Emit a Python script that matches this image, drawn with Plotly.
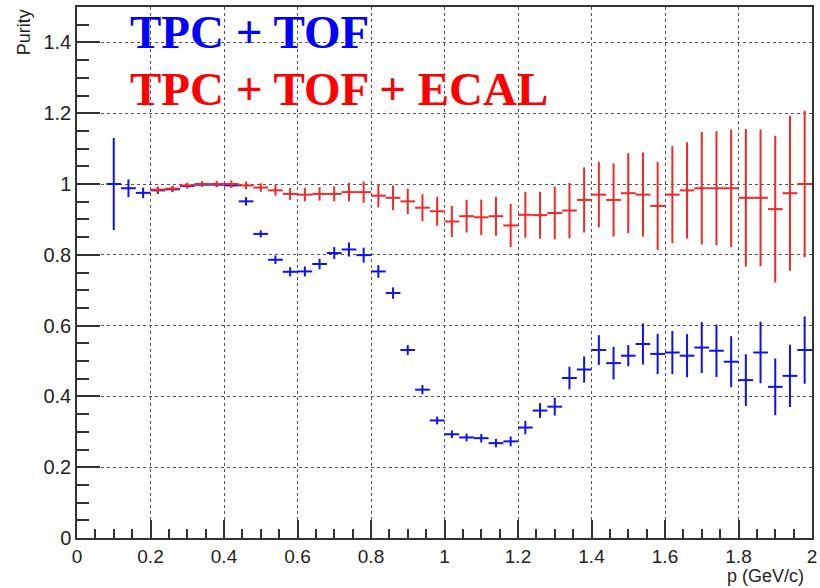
import plotly.graph_objects as go

# --- data ---
p_blue = [0.10, 0.14, 0.18, 0.22, 0.26, 0.30, 0.34, 0.38, 0.42, 0.46,
          0.50, 0.54, 0.58, 0.62, 0.66, 0.70, 0.74, 0.78, 0.82, 0.86,
          0.90, 0.94, 0.98, 1.02, 1.06, 1.10, 1.14, 1.18, 1.22, 1.26,
          1.30, 1.34, 1.38, 1.42, 1.46, 1.50, 1.54, 1.58, 1.62, 1.66,
          1.70, 1.74, 1.78, 1.82, 1.86, 1.90, 1.94, 1.98]
purity_blue = [1.000, 0.988, 0.975, 0.982, 0.985, 0.994, 0.998, 0.998, 0.996, 0.951,
               0.859, 0.786, 0.752, 0.753, 0.774, 0.805, 0.815, 0.799, 0.753, 0.692,
               0.531, 0.419, 0.332, 0.293, 0.284, 0.282, 0.268, 0.273, 0.312, 0.360,
               0.371, 0.452, 0.476, 0.531, 0.494, 0.515, 0.548, 0.520, 0.524, 0.515,
               0.538, 0.529, 0.498, 0.446, 0.524, 0.427, 0.458, 0.531]
err_blue = [0.130, 0.025, 0.015, 0.010, 0.008, 0.006, 0.005, 0.005, 0.006, 0.012,
            0.010, 0.012, 0.013, 0.014, 0.015, 0.017, 0.020, 0.021, 0.018, 0.016,
            0.014, 0.013, 0.011, 0.011, 0.011, 0.012, 0.012, 0.014, 0.019, 0.021,
            0.025, 0.032, 0.037, 0.042, 0.046, 0.030, 0.058, 0.057, 0.061, 0.061,
            0.072, 0.074, 0.072, 0.073, 0.087, 0.080, 0.088, 0.095]

p_red = [0.22, 0.26, 0.30, 0.34, 0.38, 0.42, 0.46, 0.50, 0.54, 0.58,
         0.62, 0.66, 0.70, 0.74, 0.78, 0.82, 0.86, 0.90, 0.94, 0.98,
         1.02, 1.06, 1.10, 1.14, 1.18, 1.22, 1.26, 1.30, 1.34, 1.38,
         1.42, 1.46, 1.50, 1.54, 1.58, 1.62, 1.66, 1.70, 1.74, 1.78,
         1.82, 1.86, 1.90, 1.94, 1.98]
purity_red = [0.984, 0.987, 0.996, 1.000, 1.000, 1.000, 0.996, 0.990, 0.982, 0.972,
              0.970, 0.972, 0.972, 0.977, 0.977, 0.967, 0.961, 0.951, 0.933, 0.923,
              0.894, 0.909, 0.906, 0.909, 0.883, 0.913, 0.912, 0.918, 0.925, 0.955,
              0.970, 0.955, 0.974, 0.970, 0.938, 0.970, 0.982, 0.988, 0.988, 0.988,
              0.961, 0.961, 0.929, 0.974, 1.000]
err_red = [0.008, 0.008, 0.008, 0.008, 0.009, 0.010, 0.011, 0.012, 0.015, 0.017,
           0.019, 0.019, 0.021, 0.026, 0.030, 0.033, 0.035, 0.036, 0.038, 0.041,
           0.044, 0.046, 0.050, 0.055, 0.061, 0.065, 0.066, 0.074, 0.078, 0.092,
           0.092, 0.103, 0.113, 0.119, 0.124, 0.137, 0.136, 0.159, 0.161, 0.166,
           0.194, 0.193, 0.207, 0.219, 0.207]

bin_halfwidth = 0.02
x_ticks = [0, 0.2, 0.4, 0.6, 0.8, 1, 1.2, 1.4, 1.6, 1.8, 2]
y_ticks = [0, 0.2, 0.4, 0.6, 0.8, 1, 1.2, 1.4]

BLUE = "#1010ee"
RED = "#f02828"

fig = go.Figure()
for xs, ys, es, col in [(p_blue, purity_blue, err_blue, BLUE),
                        (p_red, purity_red, err_red, RED)]:
    fig.add_trace(go.Scatter(
        x=xs, y=ys, mode="markers",
        marker=dict(size=1, color=col),
        error_y=dict(type="data", array=es, thickness=2, width=0, color=col),
        error_x=dict(type="constant", value=bin_halfwidth, thickness=2, width=0, color=col),
        showlegend=False, hoverinfo="skip"))

SANS = "Liberation Sans, Arial, sans-serif"
ytick_font = dict(family=SANS, size=20, color="#222")
xtick_font = dict(family=SANS, size=19, color="#222")
title_font = dict(family=SANS, size=18, color="#222")
common = dict(showline=True, linecolor="#333", linewidth=1.5, mirror=True,
              showgrid=True, gridcolor="#555", griddash="dot", gridwidth=1,
              zeroline=False, ticks="inside", tickcolor="#333", tickwidth=1.5,
              ticklabeloverflow="allow")

fig.update_xaxes(range=[0, 2], tickvals=x_ticks, ticktext=[f"{v:g}" for v in x_ticks],
                 ticklen=18, tickfont=xtick_font,
                 minor=dict(dtick=0.05, ticks="inside", ticklen=9, tickcolor="#333",
                            tickwidth=1.5, showgrid=False),
                 **common)
fig.update_yaxes(range=[0, 1.5], tickvals=y_ticks, ticktext=[f"{v:g}" for v in y_ticks],
                 ticklen=23, tickfont=ytick_font,
                 minor=dict(dtick=0.05, ticks="inside", ticklen=12, tickcolor="#333",
                            tickwidth=1.5, showgrid=False),
                 **common)

serif = "Liberation Serif, Times New Roman, serif"
fig.add_annotation(x=0.14, y=1.43, xref="x", yref="y", text="<b>TPC + TOF</b>",
                   showarrow=False, xanchor="left", yanchor="middle",
                   font=dict(family=serif, size=47, color="#0000ff"))
fig.add_annotation(x=0.14, y=1.268, xref="x", yref="y", text="<b>TPC + TOF + ECAL</b>",
                   showarrow=False, xanchor="left", yanchor="middle",
                   font=dict(family=serif, size=47, color="#ff0000"))
fig.add_annotation(x=-0.0716, y=1.0, xref="paper", yref="paper", text="Purity",
                   textangle=-90, showarrow=False, xanchor="center", yanchor="top",
                   font=title_font)
fig.add_annotation(x=0.9905, y=-0.0915, xref="paper", yref="paper", text="p (GeV/c)",
                   showarrow=False, xanchor="right", yanchor="bottom", borderpad=0,
                   font=title_font)

fig.update_layout(width=820, height=588,
                  margin=dict(l=77, r=3, t=7, b=50),
                  plot_bgcolor="white", paper_bgcolor="white")

fig.write_html("out.html")
